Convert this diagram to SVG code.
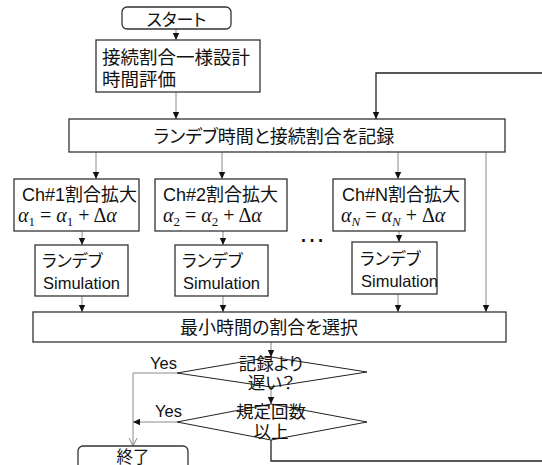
<svg xmlns="http://www.w3.org/2000/svg" width="542" height="465" viewBox="0 0 542 465">
<style>
.box{fill:#fff;stroke:#333;stroke-width:1.3}
.t{font-family:"Liberation Sans","Noto Sans CJK JP",sans-serif;fill:#111;font-feature-settings:"palt"}
.m{font-family:"Liberation Serif",serif;fill:#111}
.c{fill:none;stroke:#8a8a8a;stroke-width:1}
.loop{fill:none;stroke:#222;stroke-width:1.3}
</style>
<defs>
<marker id="ah" markerWidth="8" markerHeight="8" refX="7" refY="4" orient="auto" markerUnits="userSpaceOnUse">
<path d="M0,0.8 L7,4 L0,7.2 Z" fill="#111"/>
</marker>
<marker id="ov" markerWidth="10" markerHeight="10" refX="8" refY="5" orient="auto" markerUnits="userSpaceOnUse">
<path d="M0,1 L8,5 L0,9" fill="none" stroke="#888" stroke-width="1"/>
</marker>
</defs>
<rect width="542" height="465" fill="#fff"/>
<g id="connectors">
<path class="c" d="M176,29 V40" marker-end="url(#ah)"/>
<path class="c" d="M176,92 V119" marker-end="url(#ah)"/>
<path class="loop" d="M271,440 V461 H548 V73 H376 V119" marker-end="url(#ah)"/>
<path class="c" d="M96,152 V179" marker-end="url(#ah)"/>
<path class="c" d="M222,152 V179" marker-end="url(#ah)"/>
<path class="c" d="M398,152 V179" marker-end="url(#ah)"/>
<path class="c" d="M486,152 V312" marker-end="url(#ah)"/>
<path class="c" d="M82,231 V245" marker-end="url(#ah)"/>
<path class="c" d="M223,231 V245" marker-end="url(#ah)"/>
<path class="c" d="M399,231 V242" marker-end="url(#ah)"/>
<path class="c" d="M82,296 V312" marker-end="url(#ah)"/>
<path class="c" d="M223,296 V312" marker-end="url(#ah)"/>
<path class="c" d="M398,294 V312" marker-end="url(#ah)"/>
<path class="c" d="M271,342 V357" marker-end="url(#ah)"/>
<path class="c" d="M271,387 V404" marker-end="url(#ah)"/>
<path class="c" d="M177,373 H133 V446" marker-end="url(#ov)"/>
<path class="c" d="M177,422 H133" marker-end="url(#ah)"/>
<text class="t" x="150" y="369" font-size="16.5">Yes</text>
<text class="t" x="155" y="417" font-size="16.5">Yes</text>
</g>
<g id="start">
<rect class="box" x="122" y="7" width="109" height="22" rx="5"/>
<text class="t" x="176.5" y="26" font-size="17" text-anchor="middle">スタート</text>
</g>
<g id="uniform">
<rect class="box" x="96" y="40" width="164" height="52"/>
<text class="t" x="102" y="64" font-size="18.5">接続割合一様設計</text>
<text class="t" x="102" y="86" font-size="18.5">時間評価</text>
</g>
<g id="record">
<rect class="box" x="69" y="119" width="436" height="33"/>
<text class="t" x="274" y="143" font-size="18" text-anchor="middle">ランデブ時間と接続割合を記録</text>
</g>
<g id="ch1">
<rect class="box" x="14" y="179" width="125" height="52"/>
<text class="t" x="22" y="201" font-size="18">Ch#1割合拡大</text>
<text class="m" x="18" y="222" font-size="20"><tspan font-style="italic">α</tspan><tspan font-size="13" dy="4">1</tspan><tspan dy="-4"> = </tspan><tspan font-style="italic">α</tspan><tspan font-size="13" dy="4">1</tspan><tspan dy="-4"> + Δ</tspan><tspan font-style="italic">α</tspan></text>
</g>
<g id="ch2">
<rect class="box" x="155" y="179" width="132" height="52"/>
<text class="t" x="163" y="201" font-size="18">Ch#2割合拡大</text>
<text class="m" x="163" y="222" font-size="20"><tspan font-style="italic">α</tspan><tspan font-size="13" dy="4">2</tspan><tspan dy="-4"> = </tspan><tspan font-style="italic">α</tspan><tspan font-size="13" dy="4">2</tspan><tspan dy="-4"> + Δ</tspan><tspan font-style="italic">α</tspan></text>
</g>
<g id="chN">
<rect class="box" x="333" y="179" width="132" height="52"/>
<text class="t" x="342" y="201" font-size="18">Ch#N割合拡大</text>
<text class="m" x="341" y="222" font-size="20"><tspan font-style="italic">α</tspan><tspan font-size="13" dy="4" font-style="italic">N</tspan><tspan dy="-4"> = </tspan><tspan font-style="italic">α</tspan><tspan font-size="13" dy="4" font-style="italic">N</tspan><tspan dy="-4"> + Δ</tspan><tspan font-style="italic">α</tspan></text>
</g>
<g id="dots">
<text class="t" x="312" y="242" font-size="27" text-anchor="middle">…</text>
</g>
<g id="sim1">
<rect class="box" x="35" y="245" width="93" height="51"/>
<text class="t" x="42" y="267" font-size="17">ランデブ</text>
<text class="t" x="43" y="289" font-size="16.5">Simulation</text>
</g>
<g id="sim2">
<rect class="box" x="175" y="245" width="93" height="51"/>
<text class="t" x="182" y="267" font-size="17">ランデブ</text>
<text class="t" x="183" y="289" font-size="16.5">Simulation</text>
</g>
<g id="simN">
<rect class="box" x="352" y="242" width="85" height="52"/>
<text class="t" x="360" y="265" font-size="17">ランデブ</text>
<text class="t" x="361" y="287" font-size="16.5">Simulation</text>
</g>
<g id="select">
<rect class="box" x="33" y="312" width="473" height="30"/>
<text class="t" x="269" y="334" font-size="18" text-anchor="middle">最小時間の割合を選択</text>
</g>
<g id="dec1">
<path d="M271,357 L367,372 L271,387 L177,373 Z" fill="none" stroke="#222" stroke-width="1"/>
<text class="t" x="271" y="370" font-size="17.5" text-anchor="middle">記録より</text>
<text class="t" x="271" y="389" font-size="17.5" text-anchor="middle">遅い？</text>
</g>
<g id="dec2">
<path d="M271,404 L367,422 L271,440 L177,422 Z" fill="none" stroke="#222" stroke-width="1"/>
<text class="t" x="271" y="418" font-size="17.5" text-anchor="middle">規定回数</text>
<text class="t" x="271" y="438" font-size="17.5" text-anchor="middle">以上</text>
</g>
<g id="end">
<rect class="box" x="78" y="446" width="110" height="30" rx="5"/>
<text class="t" x="133" y="462.5" font-size="16.5" text-anchor="middle">終了</text>
</g>
</svg>
